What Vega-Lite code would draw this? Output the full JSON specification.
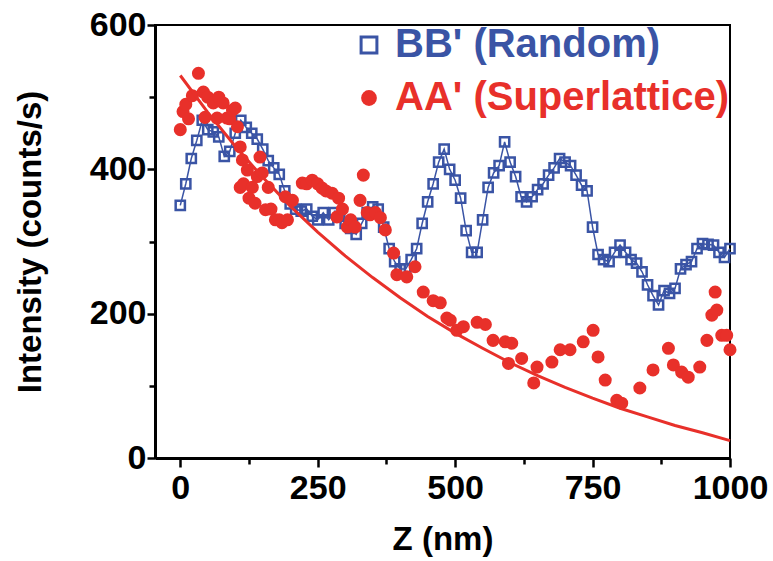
{
  "$schema": "https://vega.github.io/schema/vega-lite/v6.json",
  "width": 575,
  "height": 433,
  "autosize": {"type": "none"},
  "padding": {"left": 155, "top": 25, "right": 43, "bottom": 103},
  "background": "white",
  "config": {
    "view": {"stroke": "black", "strokeWidth": 2},
    "font": "Liberation Sans",
    "legend": {
      "title": null, "orient": "none",
      "labelFont": "Liberation Sans", "labelFontWeight": "bold", "labelFontSize": 40,
      "labelLimit": 600, "labelOffset": 6, "symbolSize": 250, "symbolStrokeWidth": 3
    }
  },
  "resolve": {
    "scale": {"color": "independent", "shape": "independent"},
    "legend": {"color": "independent", "shape": "independent"}
  },
  "datasets": {
    "blue": [
      {"z":0,"v":350,"s":"BB' (Random)"},{"z":10,"v":380,"s":"BB' (Random)"},{"z":20,"v":415,"s":"BB' (Random)"},{"z":30,"v":440,"s":"BB' (Random)"},{"z":40,"v":468,"s":"BB' (Random)"},{"z":50,"v":455,"s":"BB' (Random)"},{"z":60,"v":452,"s":"BB' (Random)"},{"z":70,"v":445,"s":"BB' (Random)"},{"z":80,"v":418,"s":"BB' (Random)"},{"z":90,"v":425,"s":"BB' (Random)"},
      {"z":100,"v":450,"s":"BB' (Random)"},{"z":110,"v":468,"s":"BB' (Random)"},{"z":120,"v":458,"s":"BB' (Random)"},{"z":130,"v":450,"s":"BB' (Random)"},{"z":140,"v":442,"s":"BB' (Random)"},{"z":150,"v":428,"s":"BB' (Random)"},{"z":160,"v":412,"s":"BB' (Random)"},{"z":170,"v":402,"s":"BB' (Random)"},{"z":180,"v":393,"s":"BB' (Random)"},{"z":190,"v":370,"s":"BB' (Random)"},
      {"z":200,"v":352,"s":"BB' (Random)"},{"z":210,"v":345,"s":"BB' (Random)"},{"z":220,"v":342,"s":"BB' (Random)"},{"z":230,"v":345,"s":"BB' (Random)"},{"z":240,"v":335,"s":"BB' (Random)"},{"z":250,"v":330,"s":"BB' (Random)"},{"z":260,"v":340,"s":"BB' (Random)"},{"z":270,"v":330,"s":"BB' (Random)"},{"z":280,"v":340,"s":"BB' (Random)"},{"z":290,"v":335,"s":"BB' (Random)"},
      {"z":300,"v":325,"s":"BB' (Random)"},{"z":310,"v":318,"s":"BB' (Random)"},{"z":320,"v":310,"s":"BB' (Random)"},{"z":330,"v":325,"s":"BB' (Random)"},{"z":340,"v":340,"s":"BB' (Random)"},{"z":350,"v":348,"s":"BB' (Random)"},{"z":360,"v":345,"s":"BB' (Random)"},{"z":370,"v":320,"s":"BB' (Random)"},{"z":380,"v":290,"s":"BB' (Random)"},{"z":390,"v":272,"s":"BB' (Random)"},
      {"z":400,"v":262,"s":"BB' (Random)"},{"z":410,"v":262,"s":"BB' (Random)"},{"z":420,"v":275,"s":"BB' (Random)"},{"z":430,"v":290,"s":"BB' (Random)"},{"z":440,"v":325,"s":"BB' (Random)"},{"z":450,"v":355,"s":"BB' (Random)"},{"z":460,"v":380,"s":"BB' (Random)"},{"z":470,"v":410,"s":"BB' (Random)"},{"z":480,"v":428,"s":"BB' (Random)"},{"z":490,"v":400,"s":"BB' (Random)"},
      {"z":500,"v":385,"s":"BB' (Random)"},{"z":510,"v":360,"s":"BB' (Random)"},{"z":520,"v":315,"s":"BB' (Random)"},{"z":530,"v":285,"s":"BB' (Random)"},{"z":540,"v":285,"s":"BB' (Random)"},{"z":550,"v":330,"s":"BB' (Random)"},{"z":560,"v":375,"s":"BB' (Random)"},{"z":570,"v":395,"s":"BB' (Random)"},{"z":580,"v":405,"s":"BB' (Random)"},{"z":590,"v":438,"s":"BB' (Random)"},
      {"z":600,"v":410,"s":"BB' (Random)"},{"z":610,"v":390,"s":"BB' (Random)"},{"z":620,"v":362,"s":"BB' (Random)"},{"z":630,"v":355,"s":"BB' (Random)"},{"z":640,"v":362,"s":"BB' (Random)"},{"z":650,"v":372,"s":"BB' (Random)"},{"z":660,"v":380,"s":"BB' (Random)"},{"z":670,"v":392,"s":"BB' (Random)"},{"z":680,"v":402,"s":"BB' (Random)"},{"z":690,"v":415,"s":"BB' (Random)"},
      {"z":700,"v":410,"s":"BB' (Random)"},{"z":710,"v":405,"s":"BB' (Random)"},{"z":720,"v":392,"s":"BB' (Random)"},{"z":730,"v":378,"s":"BB' (Random)"},{"z":740,"v":370,"s":"BB' (Random)"},{"z":750,"v":320,"s":"BB' (Random)"},{"z":760,"v":282,"s":"BB' (Random)"},{"z":770,"v":275,"s":"BB' (Random)"},{"z":780,"v":272,"s":"BB' (Random)"},{"z":790,"v":285,"s":"BB' (Random)"},
      {"z":800,"v":295,"s":"BB' (Random)"},{"z":810,"v":285,"s":"BB' (Random)"},{"z":820,"v":275,"s":"BB' (Random)"},{"z":830,"v":270,"s":"BB' (Random)"},{"z":840,"v":258,"s":"BB' (Random)"},{"z":850,"v":240,"s":"BB' (Random)"},{"z":860,"v":225,"s":"BB' (Random)"},{"z":870,"v":212,"s":"BB' (Random)"},{"z":880,"v":232,"s":"BB' (Random)"},{"z":890,"v":228,"s":"BB' (Random)"},
      {"z":900,"v":235,"s":"BB' (Random)"},{"z":910,"v":262,"s":"BB' (Random)"},{"z":920,"v":268,"s":"BB' (Random)"},{"z":930,"v":272,"s":"BB' (Random)"},{"z":940,"v":290,"s":"BB' (Random)"},{"z":950,"v":297,"s":"BB' (Random)"},{"z":960,"v":296,"s":"BB' (Random)"},{"z":970,"v":295,"s":"BB' (Random)"},{"z":980,"v":285,"s":"BB' (Random)"},{"z":990,"v":278,"s":"BB' (Random)"},
      {"z":1000,"v":290,"s":"BB' (Random)"}
    ],
    "red": [
      {"z":0,"v":455,"s":"AA' (Superlattice)"},{"z":5,"v":480,"s":"AA' (Superlattice)"},{"z":10,"v":490,"s":"AA' (Superlattice)"},{"z":15,"v":470,"s":"AA' (Superlattice)"},{"z":22,"v":502,"s":"AA' (Superlattice)"},{"z":33,"v":533,"s":"AA' (Superlattice)"},{"z":42,"v":507,"s":"AA' (Superlattice)"},{"z":45,"v":472,"s":"AA' (Superlattice)"},{"z":50,"v":500,"s":"AA' (Superlattice)"},{"z":60,"v":492,"s":"AA' (Superlattice)"},
      {"z":67,"v":471,"s":"AA' (Superlattice)"},{"z":70,"v":500,"s":"AA' (Superlattice)"},{"z":78,"v":492,"s":"AA' (Superlattice)"},{"z":85,"v":471,"s":"AA' (Superlattice)"},{"z":90,"v":470,"s":"AA' (Superlattice)"},{"z":95,"v":482,"s":"AA' (Superlattice)"},{"z":100,"v":485,"s":"AA' (Superlattice)"},{"z":104,"v":459,"s":"AA' (Superlattice)"},{"z":109,"v":431,"s":"AA' (Superlattice)"},{"z":113,"v":413,"s":"AA' (Superlattice)"},
      {"z":109,"v":375,"s":"AA' (Superlattice)"},{"z":115,"v":380,"s":"AA' (Superlattice)"},{"z":122,"v":399,"s":"AA' (Superlattice)"},{"z":125,"v":360,"s":"AA' (Superlattice)"},{"z":131,"v":375,"s":"AA' (Superlattice)"},{"z":136,"v":353,"s":"AA' (Superlattice)"},{"z":140,"v":390,"s":"AA' (Superlattice)"},{"z":145,"v":417,"s":"AA' (Superlattice)"},{"z":149,"v":395,"s":"AA' (Superlattice)"},{"z":155,"v":344,"s":"AA' (Superlattice)"},
      {"z":160,"v":375,"s":"AA' (Superlattice)"},{"z":165,"v":345,"s":"AA' (Superlattice)"},{"z":173,"v":330,"s":"AA' (Superlattice)"},{"z":180,"v":330,"s":"AA' (Superlattice)"},{"z":185,"v":326,"s":"AA' (Superlattice)"},{"z":191,"v":362,"s":"AA' (Superlattice)"},{"z":195,"v":330,"s":"AA' (Superlattice)"},{"z":204,"v":357,"s":"AA' (Superlattice)"},{"z":222,"v":381,"s":"AA' (Superlattice)"},{"z":230,"v":380,"s":"AA' (Superlattice)"},
      {"z":240,"v":385,"s":"AA' (Superlattice)"},{"z":250,"v":380,"s":"AA' (Superlattice)"},{"z":258,"v":374,"s":"AA' (Superlattice)"},{"z":265,"v":370,"s":"AA' (Superlattice)"},{"z":276,"v":367,"s":"AA' (Superlattice)"},{"z":285,"v":334,"s":"AA' (Superlattice)"},{"z":288,"v":360,"s":"AA' (Superlattice)"},{"z":295,"v":345,"s":"AA' (Superlattice)"},{"z":304,"v":320,"s":"AA' (Superlattice)"},{"z":310,"v":330,"s":"AA' (Superlattice)"},
      {"z":318,"v":320,"s":"AA' (Superlattice)"},{"z":327,"v":357,"s":"AA' (Superlattice)"},{"z":333,"v":392,"s":"AA' (Superlattice)"},{"z":340,"v":340,"s":"AA' (Superlattice)"},{"z":345,"v":337,"s":"AA' (Superlattice)"},{"z":355,"v":340,"s":"AA' (Superlattice)"},{"z":364,"v":333,"s":"AA' (Superlattice)"},{"z":373,"v":316,"s":"AA' (Superlattice)"},{"z":388,"v":284,"s":"AA' (Superlattice)"},{"z":394,"v":254,"s":"AA' (Superlattice)"},
      {"z":412,"v":251,"s":"AA' (Superlattice)"},{"z":427,"v":265,"s":"AA' (Superlattice)"},{"z":442,"v":230,"s":"AA' (Superlattice)"},{"z":460,"v":218,"s":"AA' (Superlattice)"},{"z":473,"v":215,"s":"AA' (Superlattice)"},{"z":485,"v":194,"s":"AA' (Superlattice)"},{"z":491,"v":191,"s":"AA' (Superlattice)"},{"z":503,"v":177,"s":"AA' (Superlattice)"},{"z":515,"v":182,"s":"AA' (Superlattice)"},{"z":540,"v":188,"s":"AA' (Superlattice)"},
      {"z":555,"v":185,"s":"AA' (Superlattice)"},{"z":569,"v":163,"s":"AA' (Superlattice)"},{"z":591,"v":161,"s":"AA' (Superlattice)"},{"z":597,"v":131,"s":"AA' (Superlattice)"},{"z":603,"v":159,"s":"AA' (Superlattice)"},{"z":621,"v":138,"s":"AA' (Superlattice)"},{"z":643,"v":104,"s":"AA' (Superlattice)"},{"z":649,"v":126,"s":"AA' (Superlattice)"},{"z":676,"v":133,"s":"AA' (Superlattice)"},{"z":691,"v":150,"s":"AA' (Superlattice)"},
      {"z":709,"v":150,"s":"AA' (Superlattice)"},{"z":733,"v":161,"s":"AA' (Superlattice)"},{"z":751,"v":177,"s":"AA' (Superlattice)"},{"z":760,"v":140,"s":"AA' (Superlattice)"},{"z":773,"v":108,"s":"AA' (Superlattice)"},{"z":794,"v":80,"s":"AA' (Superlattice)"},{"z":803,"v":76,"s":"AA' (Superlattice)"},{"z":836,"v":97,"s":"AA' (Superlattice)"},{"z":860,"v":122,"s":"AA' (Superlattice)"},{"z":888,"v":152,"s":"AA' (Superlattice)"},
      {"z":897,"v":129,"s":"AA' (Superlattice)"},{"z":912,"v":119,"s":"AA' (Superlattice)"},{"z":924,"v":112,"s":"AA' (Superlattice)"},{"z":945,"v":126,"s":"AA' (Superlattice)"},{"z":958,"v":163,"s":"AA' (Superlattice)"},{"z":967,"v":198,"s":"AA' (Superlattice)"},{"z":973,"v":230,"s":"AA' (Superlattice)"},{"z":976,"v":205,"s":"AA' (Superlattice)"},{"z":985,"v":170,"s":"AA' (Superlattice)"},{"z":994,"v":170,"s":"AA' (Superlattice)"},
      {"z":1000,"v":150,"s":"AA' (Superlattice)"}
    ],
    "fit": [
      {"z":0,"v":530},{"z":50,"v":479},{"z":100,"v":432},{"z":150,"v":389},{"z":200,"v":349},{"z":250,"v":313},{"z":300,"v":280},{"z":350,"v":250},{"z":400,"v":222},{"z":450,"v":196},{"z":500,"v":173},{"z":550,"v":152},{"z":600,"v":132},{"z":650,"v":114},{"z":700,"v":98},{"z":750,"v":83},{"z":800,"v":69},{"z":850,"v":57},{"z":900,"v":45},{"z":950,"v":35},{"z":1000,"v":24}
    ]
  },
  "encoding": {
    "x": {
      "field": "z", "type": "quantitative",
      "scale": {"domain": [-46, 1000], "nice": false, "zero": false},
      "axis": {
        "title": "Z (nm)",
        "format": "d",
        "values": [0, 125, 250, 375, 500, 625, 750, 875, 1000],
        "labelExpr": "datum.value % 250 === 0 ? datum.label : ''",
        "grid": false,
        "domainColor": "black", "domainWidth": 3,
        "tickColor": "black", "tickWidth": 2.5,
        "tickSize": {"condition": {"test": "datum.value % 250 !== 0", "value": 6}, "value": 9},
        "labelFont": "Liberation Sans", "labelFontWeight": "bold", "labelFontSize": 34, "labelColor": "black",
        "labelPadding": 4, "labelFlush": false, "labelOverlap": false,
        "titleFont": "Liberation Sans", "titleFontWeight": "bold", "titleFontSize": 33, "titleColor": "black",
        "titlePadding": 18
      }
    },
    "y": {
      "field": "v", "type": "quantitative",
      "scale": {"domain": [0, 600], "nice": false},
      "axis": {
        "title": "Intensity (counts/s)",
        "format": "d",
        "values": [0, 100, 200, 300, 400, 500, 600],
        "labelExpr": "datum.value % 200 === 0 ? datum.label : ''",
        "grid": false,
        "domainColor": "black", "domainWidth": 3,
        "tickColor": "black", "tickWidth": 2.5,
        "tickSize": {"condition": {"test": "datum.value % 200 !== 0", "value": 6}, "value": 8},
        "labelFont": "Liberation Sans", "labelFontWeight": "bold", "labelFontSize": 34, "labelColor": "black",
        "labelPadding": 1, "labelFlush": false, "labelOverlap": false,
        "titleFont": "Liberation Sans", "titleFontWeight": "bold", "titleFontSize": 33, "titleColor": "black",
        "titlePadding": 42
      }
    }
  },
  "layer": [
    {
      "data": {"name": "blue"},
      "mark": {"type": "line", "color": "#3a54a5", "strokeWidth": 1.5},
      "encoding": {}
    },
    {
      "data": {"name": "blue"},
      "mark": {"type": "point", "filled": false, "strokeWidth": 2.5, "size": 85, "opacity": 1},
      "encoding": {
        "color": {
          "field": "s", "type": "nominal",
          "scale": {"domain": ["BB' (Random)"], "range": ["#3a54a5"]},
          "legend": {"legendX": 194, "legendY": 0, "labelColor": "#3a54a5"}
        },
        "shape": {
          "field": "s", "type": "nominal",
          "scale": {"domain": ["BB' (Random)"], "range": ["square"]},
          "legend": {"legendX": 194, "legendY": 0, "labelColor": "#3a54a5"}
        }
      }
    },
    {
      "data": {"name": "red"},
      "mark": {"type": "point", "filled": true, "size": 170, "opacity": 1},
      "encoding": {
        "color": {
          "field": "s", "type": "nominal",
          "scale": {"domain": ["AA' (Superlattice)"], "range": ["#e8302a"]},
          "legend": {"legendX": 194, "legendY": 53, "labelColor": "#e8302a"}
        },
        "shape": {
          "field": "s", "type": "nominal",
          "scale": {"domain": ["AA' (Superlattice)"], "range": ["circle"]},
          "legend": {"legendX": 194, "legendY": 53, "labelColor": "#e8302a"}
        }
      }
    },
    {
      "data": {"name": "fit"},
      "mark": {"type": "line", "color": "#e8302a", "strokeWidth": 3},
      "encoding": {}
    }
  ]
}
